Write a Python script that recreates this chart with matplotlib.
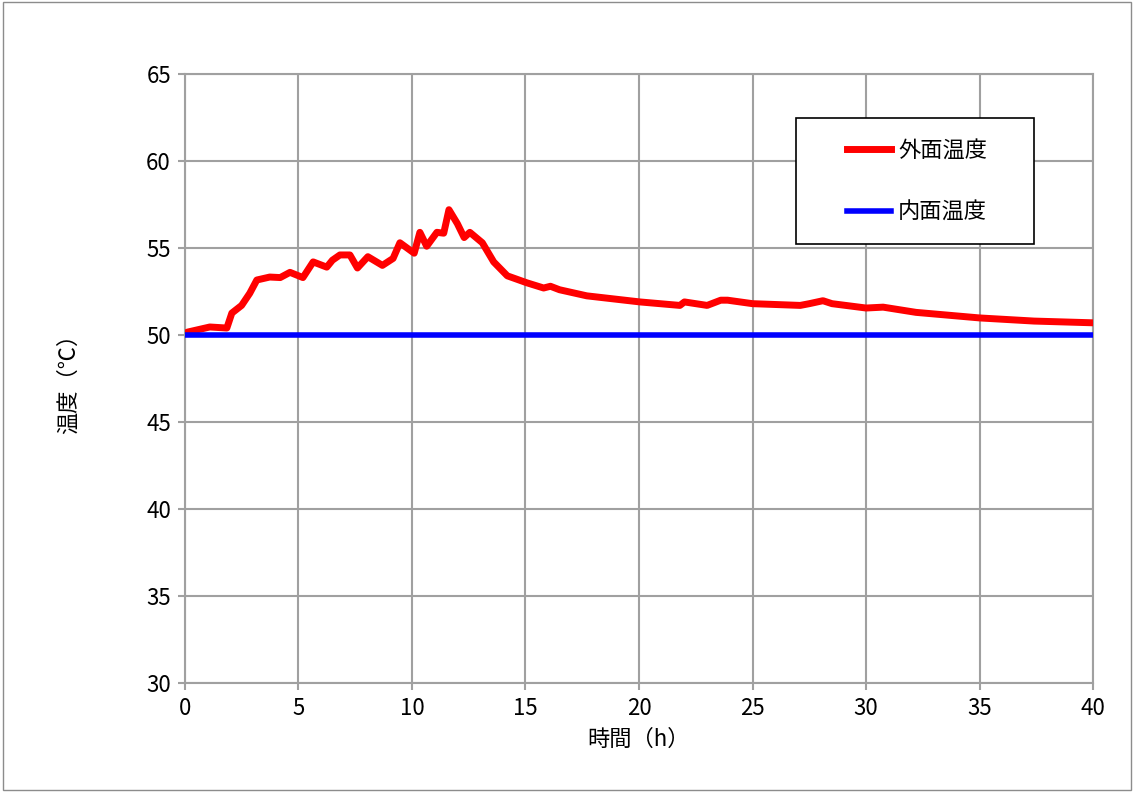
import matplotlib
matplotlib.use("Agg")
import matplotlib.pyplot as plt
from matplotlib.patches import Rectangle

plt.rcParams["font.family"] = ["Noto Sans CJK JP", "DejaVu Sans"]

# outer surface temperature
t_out = [0.0, 0.13, 1.1, 1.85, 2.07, 2.5, 2.86, 3.17, 3.74, 4.2, 4.63, 5.2,
         5.65, 6.25, 6.5, 6.83, 7.27, 7.6, 8.06, 8.7, 9.17, 9.47, 10.1, 10.35,
         10.65, 11.1, 11.4, 11.63, 12.0, 12.3, 12.55, 13.1, 13.6, 14.2, 15.06,
         15.8, 16.1, 16.5, 17.7, 20.04, 21.8, 22.0, 23.0, 23.6, 23.9, 25.0,
         27.1, 27.5, 28.1, 28.5, 30.0, 30.75, 32.2, 35.0, 37.4, 40.0]
temp_out = [50.1, 50.17, 50.46, 50.4, 51.26, 51.7, 52.4, 53.16, 53.33, 53.3,
            53.6, 53.3, 54.2, 53.9, 54.3, 54.6, 54.6, 53.85, 54.5, 54.0, 54.4,
            55.3, 54.7, 55.9, 55.1, 55.9, 55.85, 57.2, 56.4, 55.6, 55.9, 55.3,
            54.2, 53.4, 53.0, 52.7, 52.8, 52.6, 52.25, 51.9, 51.7, 51.9, 51.7,
            52.0, 52.0, 51.8, 51.7, 51.8, 51.97, 51.8, 51.55, 51.6, 51.3,
            50.98, 50.8, 50.7]

# inner surface temperature
t_in = [0.0, 40.0]
temp_in = [50.0, 50.0]

fig = plt.figure(figsize=(11.34, 7.92), dpi=100)
fig.patches.append(Rectangle((0.003, 0.003), 0.994, 0.994, transform=fig.transFigure,
                             fill=False, edgecolor="#8c8c8c", linewidth=1))
ax = fig.add_axes([0.163, 0.1376, 0.801, 0.769])

ax.plot(t_out, temp_out, color="#ff0000", linewidth=5, label="外面温度", zorder=3)
ax.plot(t_in, temp_in, color="#0000ff", linewidth=4, label="内面温度", zorder=3)

ax.set_xlim(0, 40)
ax.set_ylim(30, 65)
ax.set_xticks(range(0, 41, 5))
ax.set_yticks(range(30, 66, 5))
ax.grid(True, color="#a0a0a0", linewidth=1.5)
for s in ax.spines.values():
    s.set_color("#a0a0a0")
    s.set_linewidth(1.5)
ax.tick_params(labelsize=16, length=5, color="#a0a0a0", width=1.5, pad=5)

ax.set_xlabel("時間（h）", fontsize=16, labelpad=6)
ax.set_ylabel("温度（℃）", fontsize=16, labelpad=48)

# legend box drawn separately so the entries sit centred in it
ax.add_patch(Rectangle((0.673, 0.721), 0.262, 0.207, transform=ax.transAxes,
                       facecolor="white", edgecolor="black", linewidth=1.2,
                       zorder=4))
leg = ax.legend(loc="center", bbox_to_anchor=(0.806, 0.8245), fontsize=16,
                handlelength=2.0, handletextpad=0.3, labelspacing=1.75,
                frameon=False)
leg.set_zorder(5)

fig.savefig("out.png", dpi=100)
